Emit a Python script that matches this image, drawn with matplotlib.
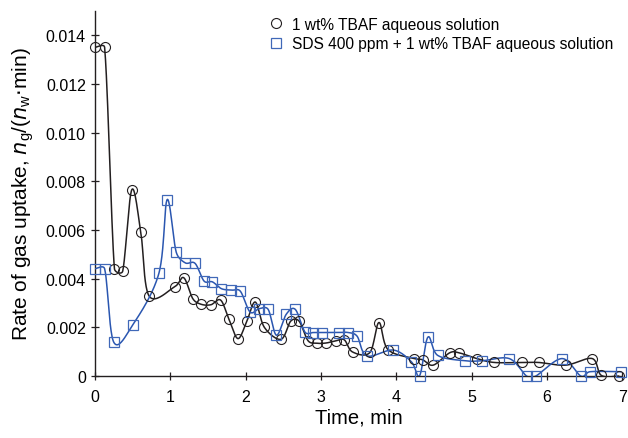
import matplotlib

matplotlib.use("Agg")

import matplotlib.pyplot as plt
import numpy as np

plt.rcParams["font.family"] = ["Liberation Sans", "DejaVu Sans"]

# 1 wt% TBAF aqueous solution (circles)
t_tbaf = [0.00, 0.13, 0.26, 0.37, 0.49, 0.61, 0.72, 1.06, 1.18, 1.30, 1.41, 1.54,
          1.67, 1.78, 1.90, 2.02, 2.13, 2.25, 2.47, 2.60, 2.71, 2.83, 2.95, 3.07,
          3.20, 3.31, 3.42, 3.65, 3.77, 3.89, 4.24, 4.35, 4.49, 4.71, 4.83, 5.07,
          5.30, 5.67, 5.89, 6.25, 6.60, 6.72, 6.95]
r_tbaf = [13.5, 13.5, 4.41, 4.31, 7.65, 5.91, 3.29, 3.67, 4.04, 3.18, 2.95, 2.93,
          3.12, 2.33, 1.54, 2.28, 3.04, 2.00, 1.51, 2.26, 2.26, 1.45, 1.35, 1.36,
          1.45, 1.49, 0.99, 0.97, 2.20, 1.09, 0.72, 0.67, 0.45, 0.96, 0.96, 0.72,
          0.56, 0.56, 0.56, 0.45, 0.72, 0.03, 0.00]

# SDS 400 ppm + 1 wt% TBAF aqueous solution (squares)
t_sds = [0.00, 0.13, 0.25, 0.50, 0.85, 0.96, 1.08, 1.20, 1.33, 1.45, 1.56, 1.68,
         1.81, 1.93, 2.06, 2.18, 2.30, 2.41, 2.54, 2.66, 2.79, 2.90, 3.02, 3.24,
         3.36, 3.48, 3.61, 3.96, 4.20, 4.31, 4.42, 4.55, 4.91, 5.14, 5.50, 5.73,
         5.85, 6.20, 6.45, 6.57, 6.98]
r_sds = [4.41, 4.41, 1.40, 2.09, 4.22, 7.25, 5.09, 4.65, 4.63, 3.90, 3.87, 3.59,
         3.53, 3.49, 2.63, 2.77, 2.74, 1.68, 2.54, 2.74, 1.80, 1.79, 1.79, 1.79,
         1.79, 1.64, 0.83, 1.07, 0.59, 0.02, 1.60, 0.85, 0.63, 0.63, 0.72, 0.00,
         0.00, 0.72, 0.00, 0.18, 0.18]

labels = ["1 wt% TBAF aqueous solution", "SDS 400 ppm + 1 wt% TBAF aqueous solution"]


def smooth(x, y, sx=75.4, sy=24430.0, n=24, cap=0.45):
    # Catmull-Rom style Bezier (like a spreadsheet smoothed line),
    # handle length capped relative to the segment to tame overshoot
    p = np.column_stack([np.asarray(x, float) * sx, np.asarray(y, float) * sy])
    out = [p[0]]
    s = np.linspace(0, 1, n)[1:, None]
    m = len(p)
    for i in range(m - 1):
        p0 = p[max(i - 1, 0)]
        p1, p2 = p[i], p[i + 1]
        p3 = p[min(i + 2, m - 1)]
        L = np.hypot(*(p2 - p1))
        h1 = (p2 - p0) / 6
        h2 = (p3 - p1) / 6
        n1, n2 = np.hypot(*h1), np.hypot(*h2)
        if n1 > cap * L:
            h1 = h1 * cap * L / n1
        if n2 > cap * L:
            h2 = h2 * cap * L / n2
        c1 = p1 + h1
        c2 = p2 - h2
        seg = ((1 - s) ** 3) * p1 + 3 * ((1 - s) ** 2) * s * c1 + 3 * (1 - s) * s ** 2 * c2 + s ** 3 * p2
        out.extend(seg)
    out = np.array(out)
    return out[:, 0] / sx, out[:, 1] / sy


black = "#231f20"
blue = "#2a56b0"

fig = plt.figure(figsize=(6.28, 4.39), dpi=100)
ax = fig.add_axes([0.151, 0.141, 0.840, 0.832])

y1 = np.array(r_tbaf) * 1e-3
y2 = np.array(r_sds) * 1e-3

xs, ys = smooth(t_tbaf, y1)
ax.plot(xs, ys, color=black, lw=1.1, zorder=2)
xs, ys = smooth(t_sds, y2)
ax.plot(xs, ys, color=blue, lw=1.1, zorder=3)

ax.plot(t_tbaf, y1, ls="none", marker="o", ms=7.2, mfc="none", mec=black, mew=0.8,
        label=labels[0], zorder=4, clip_on=False)
ax.plot(t_sds, y2, ls="none", marker="s", ms=6.6, mfc="none", mec="#4068b8", mew=0.9,
        label=labels[1], zorder=5, clip_on=False)

ax.set_xlim(0, 7)
ax.set_ylim(0, 0.015)
ax.set_xticks(range(8))
ax.set_yticks([0, 0.002, 0.004, 0.006, 0.008, 0.010, 0.012, 0.014])
ax.set_yticklabels(["0", "0.002", "0.004", "0.006", "0.008", "0.010", "0.012", "0.014"])
for side in ("top", "right"):
    ax.spines[side].set_visible(False)
for side in ("left", "bottom"):
    ax.spines[side].set_color(black)
    ax.spines[side].set_linewidth(1.0)
ax.tick_params(direction="inout", length=6, width=0.9, color=black, labelsize=11.5,
               labelcolor="black")
ax.tick_params(axis="x", pad=6)

ax.set_xlabel("Time, min", fontsize=14.5, labelpad=3)
ax.set_ylabel(r"Rate of gas uptake, $n_\mathregular{g}$/($n_\mathregular{w}$$\cdot$min)",
              fontsize=15, labelpad=7)

ax.legend(loc="upper right", bbox_to_anchor=(1.0, 1.01), frameon=False, fontsize=11.2,
          handlelength=1.0, handletextpad=0.5, labelspacing=0.3, borderaxespad=0.2)

fig.savefig("out.png", dpi=100)
